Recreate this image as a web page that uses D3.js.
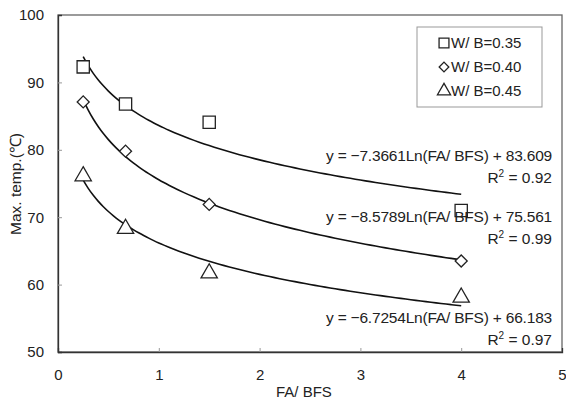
<!DOCTYPE html>
<html>
<head>
<meta charset="utf-8">
<script src="https://cdn.jsdelivr.net/npm/d3@7"></script>
<style>
  body { margin: 0; background: #fff; }
  svg { font-family: "Liberation Sans", Arial, sans-serif; }
</style>
</head>
<body>
<div id="chart"></div>
<script>
// FA/BFS values
const faBfs = [0.25, 0.67, 1.5, 4];
// max temperature per W/B ratio
const wb035 = [92.3, 86.8, 84.1, 71.0];
const wb040 = [87.1, 79.8, 71.9, 63.5];
const wb045 = [76.1, 68.3, 61.7, 58.1];
// log trendline coefficients (y = a*ln(x) + b), as printed on the chart
const trendA = [-7.3661, -8.5789, -6.7254];
const trendB = [83.609, 75.561, 66.183];
const eqLabels = ["y = \u22127.3661Ln(FA/ BFS) + 83.609", "y = \u22128.5789Ln(FA/ BFS) + 75.561", "y = \u22126.7254Ln(FA/ BFS) + 66.183"];
const r2Labels = ["0.92", "0.99", "0.97"];
const legendLabels = ["W/ B=0.35", "W/ B=0.40", "W/ B=0.45"];
const xTicks = [0, 1, 2, 3, 4, 5];
const yTicks = [50, 60, 70, 80, 90, 100];

const W = 566, H = 399;
const margin = {top: 15, right: 4, bottom: 47, left: 58};
const width = W - margin.left - margin.right;
const height = H - margin.top - margin.bottom;

const svgRoot = d3.select("#chart").append("svg")
    .attr("width", W).attr("height", H);
const svg = svgRoot.append("g")
    .attr("transform", `translate(${margin.left},${margin.top})`);

const x = d3.scaleLinear().domain([0, 5]).range([0, width]);
const y = d3.scaleLinear().domain([50, 100]).range([height, 0]);

//plot border
svg.append("rect")
    .attr("width", width).attr("height", height)
    .attr("fill", "none").attr("stroke", "#666").attr("stroke-width", 1.3);

//axes, ticks point inward
const xAxis = svg.append("g")
    .attr("transform", `translate(0,${height})`)
    .call(d3.axisBottom(x).tickValues(xTicks).tickSize(-4).tickPadding(17).tickFormat(d3.format("d")));
const yAxis = svg.append("g")
    .call(d3.axisLeft(y).tickValues(yTicks).tickSize(-4).tickPadding(14));
[xAxis, yAxis].forEach(ax => {
    ax.select(".domain").attr("stroke", "#333").attr("stroke-width", 1.3);
    ax.selectAll(".tick line").attr("stroke", "#999");
    ax.selectAll("text").style("font-size", "15px").attr("fill", "#222")
      .style("font-family", "'Liberation Sans', Arial, sans-serif");
});
xAxis.selectAll(".tick").filter(d => d === 0 || d === 5).select("line").remove();
yAxis.selectAll(".tick").filter(d => d === 50 || d === 100).select("line").remove();

//axis titles
svgRoot.append("text")
    .attr("x", margin.left + x(2.44)).attr("y", 397)
    .attr("text-anchor", "middle").style("font-size", "15px").attr("fill", "#222")
    .text("FA/ BFS");
svgRoot.append("text")
    .attr("transform", "translate(21,184) rotate(-90)")
    .attr("text-anchor", "middle").style("font-size", "15.5px").attr("fill", "#222")
    .text("Max. temp.(\u2103)");

//trendlines
const line = d3.line().x(d => x(d[0])).y(d => y(d[1])).curve(d3.curveMonotoneX);
trendA.forEach((a, i) => {
    const pts = d3.range(0.25, 4.0001, 0.05).map(v => [v, a * Math.log(v) + trendB[i]]);
    svg.append("path").datum(pts)
        .attr("d", line).attr("fill", "none")
        .attr("stroke", "#111").attr("stroke-width", 1.6);
});

//markers
const series = [wb035, wb040, wb045];
const shapes = [d3.symbolSquare, d3.symbolSquare, d3.symbolTriangle];
const rot = [0, 45, 0];
function marker(g, k, s) {
    const sizes = [150, 72, 115];
    return g.append("path")
        .attr("d", d3.symbol().type(shapes[k]).size(sizes[k] * s))
        .attr("transform", `rotate(${rot[k]})`)
        .attr("fill", "#fff").attr("stroke", "#222").attr("stroke-width", 1.3);
}
series.forEach((vals, k) => {
    vals.forEach((v, j) => {
        const g = svg.append("g").attr("transform", `translate(${x(faBfs[j])},${y(v)})`);
        marker(g, k, 1);
    });
});

//equation labels
const eqY = [161, 222, 323];
const labelX = 552 - margin.left;
eqLabels.forEach((t, i) => {
    svg.append("text")
        .attr("x", labelX).attr("y", eqY[i] - margin.top)
        .attr("text-anchor", "end").style("font-size", "15.5px")
        .style("letter-spacing", "-0.2px").attr("fill", "#222").text(t);
    const r = svg.append("text")
        .attr("x", labelX).attr("y", eqY[i] + 22 - margin.top)
        .attr("text-anchor", "end").style("font-size", "15.5px")
        .attr("fill", "#222");
    r.append("tspan").text("R");
    r.append("tspan").attr("dy", -6).style("font-size", "10px").text("2");
    r.append("tspan").attr("dy", 6).text(" = " + r2Labels[i]);
});

//legend
const lg = svgRoot.append("g").attr("transform", "translate(417,27)");
lg.append("rect").attr("width", 125).attr("height", 80)
    .attr("fill", "#fff").attr("stroke", "#999").attr("stroke-width", 1);
legendLabels.forEach((t, k) => {
    const row = lg.append("g").attr("transform", `translate(0,${16 + k * 24})`);
    const m = row.append("g").attr("transform", "translate(27,0)");
    marker(m, k, 0.65);
    row.append("text").attr("x", 34).attr("y", 5)
        .style("font-size", "15px")
        .attr("fill", "#222").text(t);
});
</script>
</body>
</html>
